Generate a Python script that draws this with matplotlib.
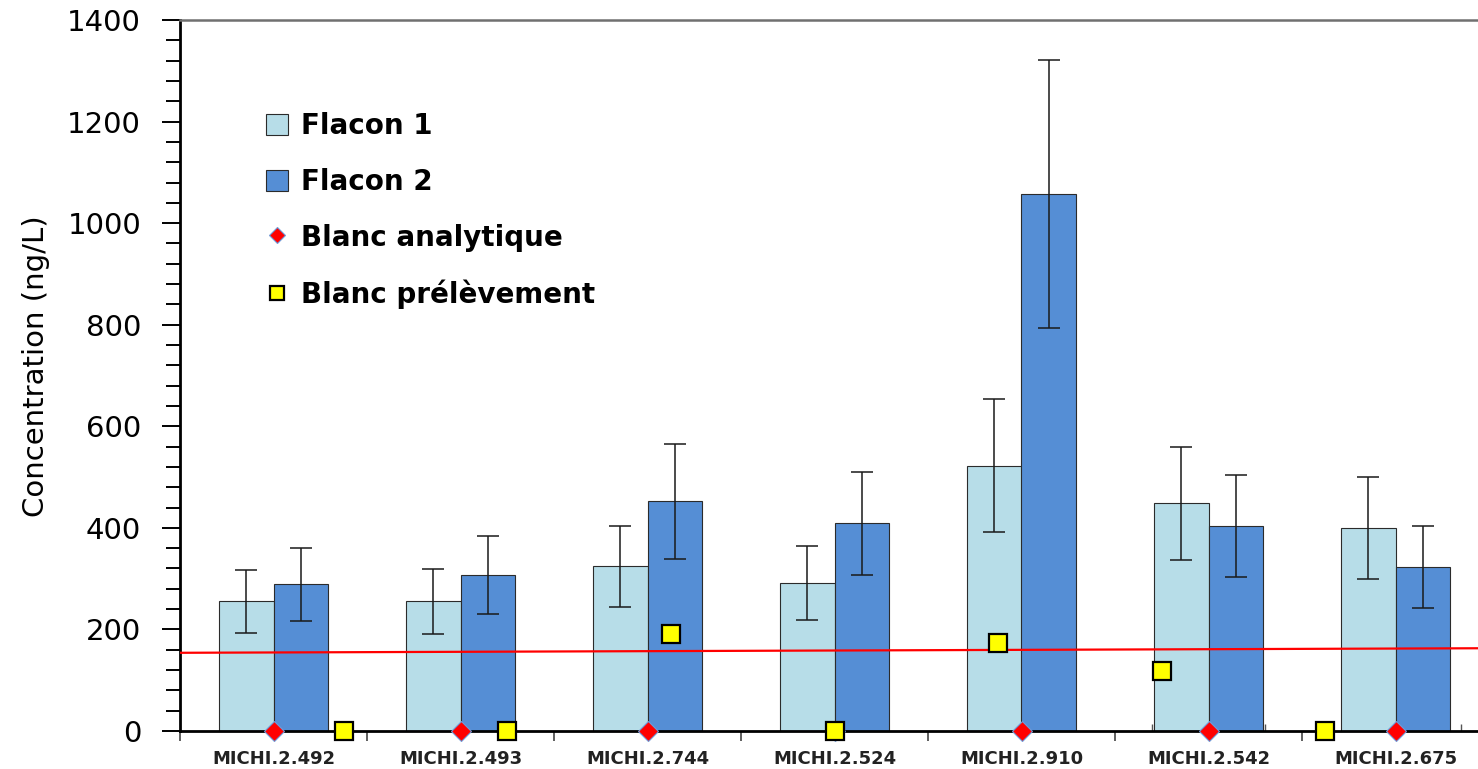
# bar chart - concentrations flacons + blancs

import matplotlib
matplotlib.use('Agg')
import matplotlib.pyplot as plt
import numpy as np

# data
echantillons = ['MICHI.2.492', 'MICHI.2.493', 'MICHI.2.744', 'MICHI.2.524',
                'MICHI.2.910', 'MICHI.2.542', 'MICHI.2.675']
flacon1 = [255, 255, 324, 291, 522, 448, 400]
flacon1_err = [63, 64, 80, 73, 131, 112, 100]
flacon2 = [289, 307, 452, 409, 1058, 404, 323]
flacon2_err = [72, 77, 113, 101, 264, 101, 80]
blanc_analytique = [0, 0, 0, 0, 0, 0, 0]
blanc_prelevement = [0, 0, 191, 0, 173, 119, 0]
# position des blancs prelevement (axe secondaire excel)
pos_prelevement = [0.375, 1.25, 2.125, 3.0, 3.875, 4.75, 5.625]
# ligne rouge (limite)
limite_x = [-0.5, 6.5]
limite_y = [154, 163]

plt.rcParams['font.family'] = ['DejaVu Sans']

fig = plt.figure(figsize=(14.78, 7.69), dpi=100)
ax = fig.add_axes([180/1478, 1-731/769, 1309/1478, 711/769])

x = np.arange(len(echantillons))
w = 0.29

b1 = ax.bar(x - w/2, flacon1, w, color='#B7DDE8', edgecolor='#2b2b2b', linewidth=0.8,
            label='Flacon 1', zorder=2)
b2 = ax.bar(x + w/2, flacon2, w, color='#558ED5', edgecolor='#2b2b2b', linewidth=0.8,
            label='Flacon 2', zorder=2)
ax.errorbar(x - w/2, flacon1, yerr=flacon1_err, fmt='none', ecolor='#1a1a1a',
            elinewidth=1.1, capsize=8, capthick=1.1, zorder=3)
ax.errorbar(x + w/2, flacon2, yerr=flacon2_err, fmt='none', ecolor='#1a1a1a',
            elinewidth=1.1, capsize=8, capthick=1.1, zorder=3)

# ligne rouge
ax.plot(limite_x, limite_y, color='red', linewidth=1.6, zorder=4)

# blancs
l1, = ax.plot(x, blanc_analytique, linestyle='none', marker='D', markersize=10.5,
              markerfacecolor='red', markeredgecolor='#6f9bd8', markeredgewidth=0.8,
              label='Blanc analytique', zorder=6, clip_on=False)
l2, = ax.plot(pos_prelevement, blanc_prelevement, linestyle='none', marker='s',
              markersize=12.5, markerfacecolor='#FFFF00', markeredgecolor='black',
              markeredgewidth=1.6, label='Blanc prélèvement', zorder=6, clip_on=False)

# axes
ax.set_xlim(-0.5, 6.5)
ax.set_ylim(0, 1400)
ax.set_yticks(np.arange(0, 1401, 200))
ax.set_yticks(np.arange(0, 1401, 40), minor=True)
ax.tick_params(axis='y', which='major', direction='out', length=13, width=1.4,
               labelsize=21, pad=15, colors='black')
ax.tick_params(axis='y', which='minor', direction='out', length=10, width=1.4)

ax.set_xticks(x)
ax.set_xticklabels(echantillons, fontsize=13, fontweight='bold', color='#222222')
ax.set_xticks(np.arange(-0.5, 7, 1), minor=True)
ax.tick_params(axis='x', which='major', length=0, pad=14)
ax.tick_params(axis='x', which='minor', direction='out', length=7, width=1.2,
               color='#444444')

# petits ticks interieurs (axe secondaire)
ticks_in = sorted(list(np.arange(7)*0.95 - 0.05) + list(np.arange(7)*1.05 + 0.05))
sec = ax.secondary_xaxis('bottom')
sec.set_xticks(ticks_in)
sec.set_xticklabels([])
sec.tick_params(direction='in', length=5, width=1.0, color='#555555')
sec.spines['bottom'].set_visible(False)

for s in ['left', 'bottom']:
    ax.spines[s].set_linewidth(2)
    ax.spines[s].set_color('black')
ax.spines['top'].set_color('#707070')
ax.spines['top'].set_linewidth(1.8)
ax.spines['right'].set_visible(False)

ax.set_ylabel('Concentration (ng/L)', fontsize=21)
ax.yaxis.set_label_coords(-0.099, 0.513)

ax.legend(handles=[b1, b2, l1, l2], loc='upper left',
          bbox_to_anchor=(266/1478, 1-112/769),
          bbox_transform=fig.transFigure, frameon=False,
          prop={'size': 20, 'weight': 'bold'}, borderpad=0, borderaxespad=0,
          handlelength=0.8, handleheight=0.8, handletextpad=0.45,
          labelspacing=1.0, markerscale=0.8)

plt.savefig('out.png', dpi=100)
